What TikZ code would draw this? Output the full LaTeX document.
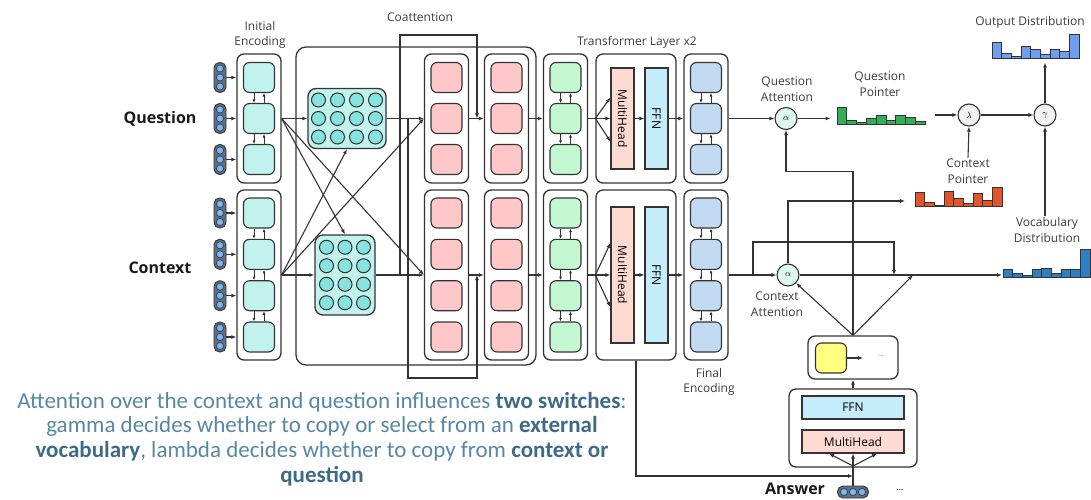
\documentclass[tikz,border=0pt]{standalone}
\usepackage{fontspec}
\setmainfont{Open Sans}
\newfontfamily\capfont{Carlito}
\usetikzlibrary{arrows.meta,positioning}

\definecolor{edge}{HTML}{333333}
\definecolor{notetxt}{HTML}{3C3C3C}
\definecolor{capblue}{HTML}{5787A6}
\definecolor{capdark}{HTML}{3E6A88}
\definecolor{encfill}{HTML}{C2F2EE}
\definecolor{matdot}{HTML}{86E3DE}
\definecolor{coafill}{HTML}{FFC7C7}
\definecolor{selffill}{HTML}{C3F7CF}
\definecolor{finfill}{HTML}{C2D9F2}
\definecolor{mhfill}{HTML}{FDDAD2}
\definecolor{ffnfill}{HTML}{C4ECFB}
\definecolor{decfill}{HTML}{FFFF80}
\definecolor{tokfill}{HTML}{5D6F85}
\definecolor{tokdot}{HTML}{7DB6F2}
\definecolor{attfill}{HTML}{DDF7EE}
\definecolor{gatefill}{HTML}{F2F2F2}
\definecolor{qpfill}{HTML}{33AF55}
\definecolor{cpfill}{HTML}{E2532E}
\definecolor{vocfill}{HTML}{2F7EBF}
\definecolor{outfill}{HTML}{6E9EF0}

\begin{document}
\begin{tikzpicture}[x=1pt,y=-1pt,
  stack/.style={draw=edge, line width=1.3pt, rounded corners=7pt, inner sep=0pt, minimum width=44pt},
  cell/.style={draw=edge, line width=1.1pt, rounded corners=6pt, inner sep=0pt, minimum width=31pt, minimum height=30pt},
  block/.style={draw=edge, line width=1.1pt, inner sep=0pt, font=\fontsize{12}{14}\selectfont},
  line/.style={draw=edge, line width=1.1pt, -{Latex[length=5pt,width=4pt]}},
  link/.style={draw=edge, line width=1.1pt},
  tiny/.style={draw=edge, line width=0.9pt, -{Latex[length=3.5pt,width=3pt]}},
  switch/.style={circle, draw=edge, line width=1.1pt, minimum size=22pt, inner sep=0pt, font=\small},
  note/.style={text=notetxt, font=\fontsize{12}{15.5}\selectfont, align=center, inner sep=1pt},
  side/.style={font=\fontsize{16}{18}\selectfont\bfseries, text=black!90},
  token/.style={draw=edge, fill=tokfill, line width=0.9pt, rounded corners=5.5pt, inner sep=0pt},
  dot/.style={draw=edge, fill=tokdot, line width=0.6pt},
  bar/.style={draw=edge, line width=0.9pt}]
\useasboundingbox (0,0) rectangle (1091,500);

% coattention frame
\node[stack, minimum width=240pt, minimum height=318pt, rounded corners=10pt] (coatt) at (416,206) {};

% encoder columns, question (q) above context (c)
\foreach \col/\x/\cf in {enc/259/encfill, coa/446.5/coafill, cob/506.5/coafill, self/565.5/selffill, fin/706/finfill}{
  \node[stack, minimum height=129pt] (q\col) at (\x,118.5) {};
  \node[stack, minimum height=170pt] (c\col) at (\x,275) {};
  \foreach \y [count=\i] in {77.5,118.5,159.5}
    \node[cell, fill=\cf] (q\col\i) at (\x,\y) {};
  \foreach \y [count=\i] in {213,254.3,295.7,337}
    \node[cell, fill=\cf] (c\col\i) at (\x,\y) {};
}
\foreach \col in {enc,self,fin}{
  \foreach \i/\j in {1/2,2/3}{
    \path[tiny] ([xshift=-5pt]q\col\i.south) -- ([xshift=-5pt]q\col\j.north);
    \path[tiny] ([xshift=5pt]q\col\j.north) -- ([xshift=5pt]q\col\i.south);
  }
  \foreach \i/\j in {1/2,2/3,3/4}{
    \path[tiny] ([xshift=-5pt]c\col\i.south) -- ([xshift=-5pt]c\col\j.north);
    \path[tiny] ([xshift=5pt]c\col\j.north) -- ([xshift=5pt]c\col\i.south);
  }
}

% input tokens
\foreach \y [count=\i] in {77.5,118.5,159.5}{
  \node[token, minimum width=12pt, minimum height=30pt] (tq\i) at (220,\y) {};
  \foreach \d in {-9,0,9} \draw[dot] (220,\y+\d) circle (3.6pt);
  \path[line] (tq\i) -- (tq\i -| qenc.west);
}
\foreach \y [count=\i] in {213,254.3,295.7,337}{
  \node[token, minimum width=12pt, minimum height=30pt] (tc\i) at (220,\y) {};
  \foreach \d in {-9,0,9} \draw[dot] (220,\y+\d) circle (3.6pt);
  \path[line] (tc\i) -- (tc\i -| cenc.west);
}
\node[side] (qname) at (160,119) {Question};
\node[side] (cname) at (160,268) {Context};

% affinity matrices
\node[stack, fill=encfill, minimum width=78pt, minimum height=60pt, rounded corners=8pt] (qmat) at (347,118.5) {};
\foreach \dx in {-28.5,-9.5,9.5,28.5} \foreach \dy in {-18.5,0,18.5}
  \draw[dot, fill=matdot, line width=1pt] (347+\dx,118.5+\dy) circle (7pt);
\node[stack, fill=encfill, minimum width=60pt, minimum height=80pt, rounded corners=8pt] (cmat) at (345,275) {};
\foreach \dx in {-18.5,0,18.5} \foreach \dy in {-27.75,-9.25,9.25,27.75}
  \draw[dot, fill=matdot, line width=1pt] (345+\dx,275+\dy) circle (7pt);

\path[line] (qenc.east) -- (qmat.west);
\path[line] (cenc.east) -- (cmat.west);
\path[line] (qenc.east) -- (cmat.north);
\path[line] (qenc.east) -- (ccoa.west);
\path[line] (cenc.east) -- (qmat.south);
\path[line] (cenc.east) -- (qcoa.west);
\path[line] (qmat.east) -- (qcoa.west);
\path[line] (cmat.east) -- (ccoa.west);

% summaries skip ahead to the second layer
\coordinate (cup) at (400,275);
\coordinate (qdown) at (408,118.5);
\coordinate (qgap) at (477,118.5);
\coordinate (cgap) at (477,275);
\path[line] (cup) -- ++(0,-240) -| (qgap);
\path[line] (qdown) -- ++(0,259.5) -| (cgap);
\path[line] (qcoa.east) -- (qcob.west);
\path[line] (ccoa.east) -- (ccob.west);
\path[line] (qcob.east) -- (qself.west);
\path[line] (ccob.east) -- (cself.west);

% transformer layers
\node[stack, minimum width=80pt, minimum height=129pt] (qtr) at (636,118.5) {};
\node[stack, minimum width=80pt, minimum height=170pt] (ctr) at (636,275) {};
\node[block, fill=mhfill, rotate=-90, minimum width=101pt, minimum height=23pt] (qmh) at (622.5,118.5) {MultiHead};
\node[block, fill=ffnfill, rotate=-90, minimum width=101pt, minimum height=23pt] (qffn) at (656.5,118.5) {FFN};
\node[block, fill=mhfill, rotate=-90, minimum width=136pt, minimum height=23pt] (cmh) at (622.5,275) {MultiHead};
\node[block, fill=ffnfill, rotate=-90, minimum width=136pt, minimum height=23pt] (cffn) at (656.5,275) {FFN};
\draw[link] (qself.east) -- (qtr.west);
\draw[link] (cself.east) -- (ctr.west);
\foreach \dy in {21,0,-23} \path[line] (qtr.west) -- ([yshift=\dy pt]qmh.south);
\foreach \dy in {32,0,-32} \path[line] (ctr.west) -- ([yshift=\dy pt]cmh.south);
\path[line] (qmh.north) -- (qffn.south);
\path[line] (cmh.north) -- (cffn.south);
\path[line] (qffn.north) -- (qfin.west);
\path[line] (cffn.north) -- (cfin.west);

% column titles
\node[note] (encname) at (260,35) {Initial\\Encoding};
\node[note] (coaname) at (420,17) {Coattention};
\node[note] (trname) at (637,42) {Transformer Layer x2};
\node[note] (finname) at (709,382) {Final\\Encoding};

% decoder
\node[stack, minimum width=128pt, minimum height=78pt] (declow) at (853,428) {};
\node[block, fill=ffnfill, minimum width=102pt, minimum height=23pt] (dffn) at (853,407.5) {FFN};
\node[block, fill=mhfill, minimum width=102pt, minimum height=23pt] (dmh) at (853,441.5) {MultiHead};
\node[stack, minimum width=90pt, minimum height=43pt] (dec) at (853,357.5) {};
\node[cell, fill=decfill] (dcell) at (831,358) {};
\node[font=\scriptsize, text=black!60] (dmore) at (881,356) {...};
\path[line] (dcell.east) -- ++(16,0);
\path[line] (declow.north) -- (dec.south);

\node[side] (answer) at (795,489) {Answer};
\node[token, minimum width=31pt, minimum height=12pt] (atok) at (853,492) {};
\foreach \d in {-9,0,9} \draw[dot] (853+\d,492) circle (3.6pt);
\node[font=\small] (amore) at (900,490) {...};
\coordinate (afork) at (853,466);
\coordinate (ajoin) at (853,476);
\draw[link] (atok.north) -- (afork);
\foreach \dx in {-24,0,24} \path[line] (afork) -- ([xshift=\dx pt]dmh.south);
\path[line] (ctr.south) |- (ajoin);

% attention and switches
\node[switch, fill=attfill] (qatt) at (786,118.5) {$\alpha$};
\node[switch, fill=attfill] (catt) at (788,275) {$\alpha$};
\node[switch, fill=gatefill] (lam) at (969,115) {$\lambda$};
\node[switch, fill=gatefill] (gam) at (1045,115) {$\gamma$};
\node[note] (qattname) at (787,89) {Question\\Attention};
\node[note] (cattname) at (777,304) {Context\\Attention};
\node[note] (qpname) at (880,84) {Question\\Pointer};
\node[note] (cpname) at (968,171) {Context\\Pointer};
\node[note] (vocname) at (1047,230) {Vocabulary\\Distribution};
\node[note] (outname) at (1030,22) {Output Distribution};

\coordinate (qpout) at (935,115);
\coordinate (cbr) at (753,275);
\coordinate (cmix) at (894,275);
\coordinate (cjoin) at (913,275);
\coordinate (cpin) at (905,201);
\coordinate (vocin) at (1002,275);

\path[line] (qfin.east) -- (qatt.west);
\path[line] (cfin.east) -- (catt.west);
\path[line] (qatt.east) -- ++(33,0);
\path[line] (qpout) -- (lam.west);
\path[line] (lam.east) -- (gam.west);
\path[line] (gam.north) -- ++(0,-41);
\path[line] (cpname.north) -- (lam.south);
\path[line] (gam |- vocname.north) -- (gam.south);
\path[line] (cbr) -- ++(0,-33) -| (cmix);
\path[line] (catt.north) |- (cpin);
\path[line] (catt.east) -- (vocin);
\path[line] (dec.north) -- (catt.south east);
\path[line] (dec.north) -- (cjoin);
\path[line] (dec.north) -- ++(0,-164) -| (qatt.south);

% pointer and vocabulary distributions
\foreach \h [count=\i from 0] in {16.7,4,1.3,5.7,8.3,3.3,9,6.3,2.3}
  \draw[bar, fill=qpfill] (837+9.8*\i,124) rectangle ++(9.8,-\h);
\foreach \h [count=\i from 0] in {13.5,3.3,1,15,7.7,2.7,13,6,19}
  \draw[bar, fill=cpfill] (915+9.66*\i,206) rectangle ++(9.66,-\h);
\foreach \h [count=\i from 0] in {7.3,4,1.3,8,8.7,3.3,7.3,7.3,28}
  \draw[bar, fill=vocfill] (1003+9.66*\i,277) rectangle ++(9.66,-\h);
\foreach \h [count=\i from 0] in {15.7,5,1.7,11.7,9,3.3,9,6.7,23.3}
  \draw[bar, fill=outfill] (992+9.7*\i,58) rectangle ++(9.7,-\h);

% summary text
\node[font=\capfont\fontsize{23}{24.6}\selectfont, text=capblue, align=center] (summary) at (322,439)
  {Attention over the context and question influences \textbf{\color{capdark}two switches}:\\
   gamma decides whether to copy or select from an \textbf{\color{capdark}external}\\
   \textbf{\color{capdark}vocabulary}, lambda decides whether to copy from \textbf{\color{capdark}context or}\\
   \textbf{\color{capdark}question}};
\end{tikzpicture}
\end{document}
